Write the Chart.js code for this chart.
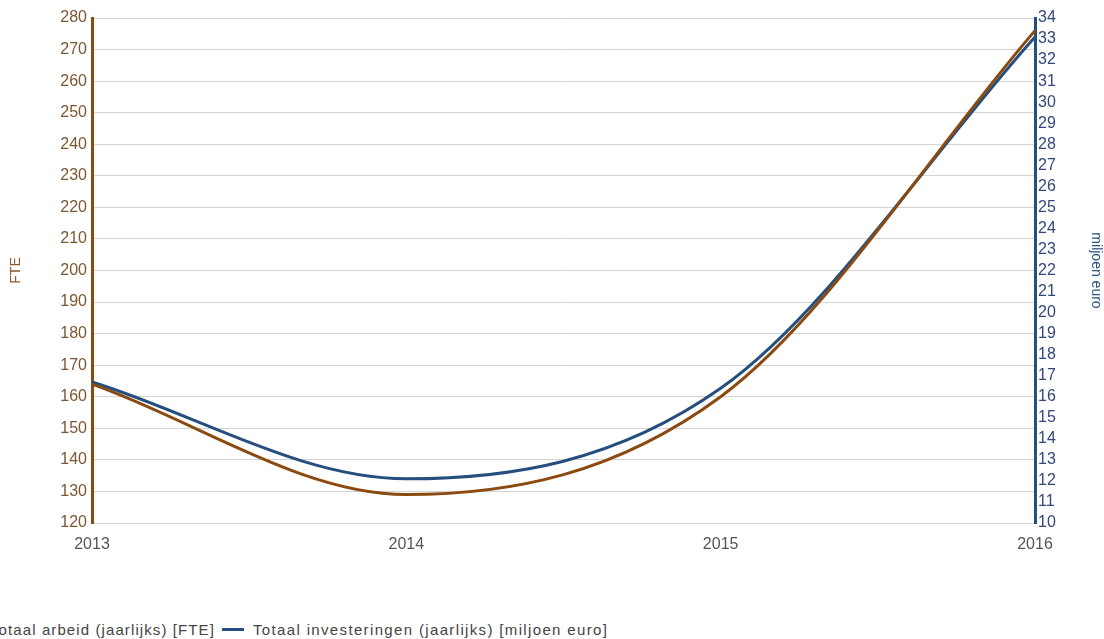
<!DOCTYPE html>
<html>
<head>
<meta charset="utf-8">
<script src="https://cdn.jsdelivr.net/npm/chart.js@4.4.1/dist/chart.umd.min.js"></script>
<style>
  body { margin: 0; background: #fff; font-family: "Liberation Sans", Arial, sans-serif; }
  #wrap { position: relative; width: 1104px; height: 639px; overflow: hidden; }
  #chartBox { position: absolute; left: 0; top: 0; width: 1104px; height: 600px; }
  .legendItem { position: absolute; top: 621px; font-size: 15px; letter-spacing: 1.35px; color: #444; white-space: nowrap; display: flex; align-items: center; }
  .legendItem .mark { display: inline-block; width: 22px; height: 3px; margin-right: 9px; }
</style>
</head>
<body>
<div id="wrap">
  <div id="chartBox"><canvas id="chart"></canvas></div>
  <div class="legendItem" id="legArbeid" style="right: 889px; letter-spacing: 1.1px;"><span class="mark" style="background:#8b4a10"></span><span></span></div>
  <div class="legendItem" id="legInvest" style="left: 222px;"><span class="mark" style="background:#254f7e"></span><span></span></div>
</div>
<script>
document.addEventListener('DOMContentLoaded', () => {
    // Data
    const years = ['2013', '2014', '2015', '2016'];
    const arbeidFte = [164, 129, 160, 276];
    const investeringen = [16.7, 12.1, 16.4, 33.1];

    const arbeidLabel = 'Totaal arbeid (jaarlijks) [FTE]';
    const investLabel = 'Totaal investeringen (jaarlijks) [miljoen euro]';

    const brown = '#8b4a10';
    const blue = '#254f7e';

    document.querySelector('#legArbeid span:last-child').textContent = arbeidLabel;
    document.querySelector('#legInvest span:last-child').textContent = investLabel;

    const tickFont = { family: '"Liberation Sans", Arial, sans-serif', size: 16 };
    const titleFont = { family: '"Liberation Sans", Arial, sans-serif', size: 14 };

    new Chart(document.getElementById('chart'), {
        type: 'line',
        data: {
            labels: years,
            datasets: [
                {
                    label: arbeidLabel,
                    data: arbeidFte,
                    yAxisID: 'yFte',
                    borderColor: brown,
                    borderWidth: 3,
                    pointRadius: 0,
                    cubicInterpolationMode: 'monotone',
                    fill: false
                },
                {
                    label: investLabel,
                    data: investeringen,
                    yAxisID: 'yEuro',
                    borderColor: blue,
                    borderWidth: 3,
                    pointRadius: 0,
                    cubicInterpolationMode: 'monotone',
                    fill: false
                }
            ]
        },
        options: {
            responsive: true,
            maintainAspectRatio: false,
            animation: false,
            layout: { padding: { top: 18, right: 0, bottom: 47, left: 0 } },
            plugins: {
                legend: { display: false },
                tooltip: { enabled: false }
            },
            scales: {
                x: {
                    offset: false,
                    grid: { display: false, drawTicks: false },
                    border: { display: false },
                    ticks: { color: '#555', font: tickFont, padding: 12, maxRotation: 0 },
                    afterFit: scale => { scale.height = 30; }
                },
                yFte: {
                    position: 'left',
                    min: 120,
                    max: 280,
                    ticks: { stepSize: 10, autoSkip: false, color: '#7d5632', font: tickFont, padding: 5 },
                    grid: { color: '#d4d4d4', lineWidth: 1, drawTicks: false },
                    border: { display: true, color: brown, width: 3 },
                    title: { display: true, text: 'FTE', color: '#8b5a2b', font: titleFont, padding: { top: 8, bottom: 0 } },
                    afterFit: scale => { scale.width = 92; }
                },
                yEuro: {
                    position: 'right',
                    min: 10,
                    max: 34,
                    ticks: { stepSize: 1, autoSkip: false, color: '#34477a', font: tickFont, padding: 3 },
                    grid: { display: false, drawTicks: false },
                    border: { display: true, color: blue, width: 3 },
                    title: { display: true, text: 'miljoen euro', color: '#2f4f80', font: titleFont, padding: { top: 0, bottom: 6 } },
                    afterFit: scale => { scale.width = 69; }
                }
            }
        }
    });
});
</script>
</body>
</html>
